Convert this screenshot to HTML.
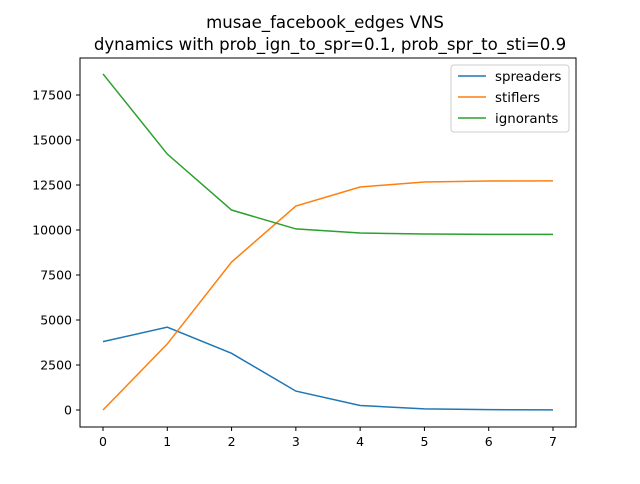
<!DOCTYPE html>
<html><head><meta charset="utf-8"><style>
body{margin:0;background:#fff;font-family:"DejaVu Sans","Liberation Sans",sans-serif;}
</style></head><body>
<svg id="chart" width="640" height="480" xmlns="http://www.w3.org/2000/svg">
<rect width="640" height="480" fill="#fff"/>
<text x="325" y="28" text-anchor="middle" font-size="16.6">musae_facebook_edges VNS</text>
<text x="330" y="50" text-anchor="middle" font-size="16.6">dynamics with prob_ign_to_spr=0.1, prob_spr_to_sti=0.9</text>
<g id="plot"></g>
<rect x="80" y="58" width="496" height="369" fill="none" stroke="#000" stroke-width="1"/>
<g>
<rect x="451" y="65" width="118" height="67" fill="#fff" stroke="#ccc" rx="3"/>
<line x1="458" y1="76" x2="486" y2="76" stroke="#1f77b4" stroke-width="1.5"/>
<text x="495" y="81" font-size="13.4">spreaders</text>
<line x1="458" y1="97" x2="486" y2="97" stroke="#ff7f0e" stroke-width="1.5"/>
<text x="495" y="102" font-size="13.4">stiflers</text>
<line x1="458" y1="118" x2="486" y2="118" stroke="#2ca02c" stroke-width="1.5"/>
<text x="495" y="123" font-size="13.4">ignorants</text>
</g>
</svg>
<script>
const steps=[0,1,2,3,4,5,6,7];
const spreaders=[3800,4600,3150,1050,250,60,20,10];
const stiflers=[0,3670,8220,11330,12390,12670,12720,12730];
const ignorants=[18670,14220,11110,10060,9830,9780,9760,9760];
const yTicks=[0,2500,5000,7500,10000,12500,15000,17500];
const NS="http://www.w3.org/2000/svg";
const sx=v=>103+v*(450/7);
const sy=v=>410-v*(315/17500);
const g=document.getElementById('plot');
function el(t,a){const e=document.createElementNS(NS,t);for(const k in a)e.setAttribute(k,a[k]);g.appendChild(e);return e;}
steps.forEach(s=>{
 const l=el('line',{x1:sx(s),x2:sx(s),y1:427,y2:431,stroke:'#000'});
 
 
 const t=el('text',{x:sx(s),y:446,'text-anchor':'middle','font-size':12.5});
 t.textContent=s;
 
 
});
yTicks.forEach(v=>{
 const l=el('line',{x1:76,x2:80,y1:sy(v),y2:sy(v),stroke:'#000'});
 
 
 const t=el('text',{x:72,y:sy(v)+4.5,'text-anchor':'end','font-size':12.5});
 t.textContent=v;
 
 
});
[[spreaders,'#1f77b4','spreaders-line'],[stiflers,'#ff7f0e','stiflers-line'],[ignorants,'#2ca02c','ignorants-line']].forEach(([d,c,n])=>{
 const p=el('polyline',{points:d.map((v,i)=>sx(steps[i])+','+sy(v)).join(' '),fill:'none',stroke:c,'stroke-width':1.5});
 
 
});
</script>
</body></html>
